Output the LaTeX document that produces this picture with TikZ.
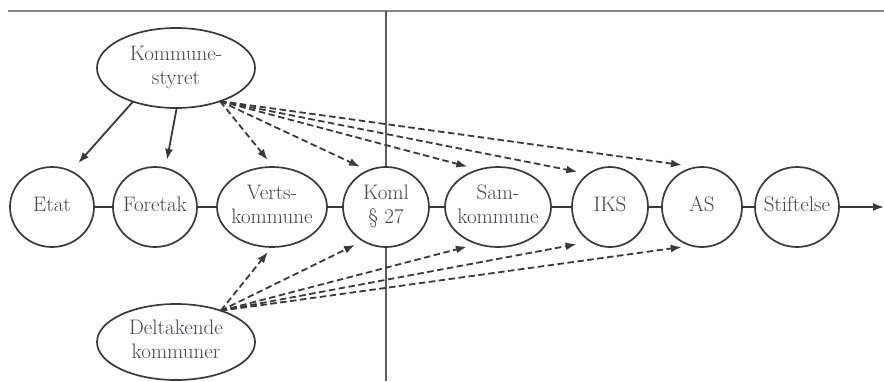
\documentclass[tikz,border=0pt]{standalone}
\usetikzlibrary{shapes.geometric,arrows.meta}
\definecolor{ln}{HTML}{3A3A3A}
\definecolor{tx}{HTML}{45454F}
\definecolor{rule}{HTML}{858585}
\newcommand{\lbl}[1]{\makebox[0pt]{\begin{tabular}{@{}c@{}}#1\end{tabular}}}
\tikzset{
  blob/.style={ellipse, draw=ln, line width=1.7pt, fill=white, inner sep=0pt, outer sep=0pt,
    text=tx, font=\fontsize{21}{24}\selectfont},
  link/.style={draw=ln, line width=1.7pt},
  solidarr/.style={draw=ln, line width=1.8pt, -{Latex[length=11pt,width=8pt]}},
  dasharr/.style={solidarr, dash pattern=on 6.5pt off 3.5pt},
}
\begin{document}
\begin{tikzpicture}[x=1pt,y=-1pt]
\useasboundingbox (0,0) rectangle (884,381);
\coordinate (tl) at (8,11);
\coordinate (tr) at (884,11);
\coordinate (vtop) at (386,11);
\coordinate (vbot) at (386,381);
\coordinate (endpt) at (884,207);
\draw[rule, line width=2.8pt] (tl) -- (tr);
\draw[rule!70!black, line width=2.2pt] (vtop) -- (vbot);

\node[blob, minimum width=158pt, minimum height=80pt] (ks) at (176,68) {\lbl{Kommune-\\styret}};
\node[blob, minimum width=84pt, minimum height=80pt] (etat) at (52,207) {\lbl{Etat}};
\node[blob, minimum width=84pt, minimum height=80pt] (foretak) at (155,207) {\lbl{Foretak}};
\node[blob, minimum width=110pt, minimum height=80pt] (verts) at (272,207) {\lbl{Verts-\\kommune}};
\node[blob, minimum width=86pt, minimum height=80pt] (koml) at (386,207) {\lbl{Koml\\\S\ 27}};
\node[blob, minimum width=106pt, minimum height=80pt] (sam) at (498,207) {\lbl{Sam-\\kommune}};
\node[blob, minimum width=76pt, minimum height=80pt] (iks) at (610,207) {\lbl{IKS}};
\node[blob, minimum width=80pt, minimum height=80pt] (asn) at (702,207) {\lbl{AS}};
\node[blob, minimum width=84pt, minimum height=80pt] (stift) at (797,207) {\lbl{Stiftelse}};
\node[blob, minimum width=158pt, minimum height=76pt] (dk) at (176,342) {\lbl{Deltakende\\kommuner}};

\draw[link] (etat) -- (foretak);
\draw[link] (foretak) -- (verts);
\draw[link] (verts) -- (koml);
\draw[link] (koml) -- (sam);
\draw[link] (sam) -- (iks);
\draw[link] (iks) -- (asn);
\draw[link] (asn) -- (stift);
\draw[solidarr] (stift) -- (endpt);

\draw[solidarr, shorten >=11pt] (ks.-142) -- (etat.62);
\draw[solidarr, shorten >=8.5pt] (ks.-89) -- (foretak.75);
\draw[dasharr, shorten >=9pt] (ks.-37) -- (verts.88);
\draw[dasharr, shorten >=9pt] (ks.-37) -- (koml.116);
\draw[dasharr, shorten >=12pt] (ks.-37) -- (sam.117);
\draw[dasharr, shorten >=11.5pt] (ks.-37) -- (iks.123);
\draw[dasharr, shorten >=16pt] (ks.-37) -- (asn.96);

\draw[dasharr, shorten >=6.5pt] (dk.35) -- (verts.-90);
\draw[dasharr, shorten >=9pt] (dk.35) -- (koml.-124);
\draw[dasharr, shorten >=11pt] (dk.35) -- (sam.-119);
\draw[dasharr, shorten >=14.5pt] (dk.35) -- (iks.-119);
\draw[dasharr, shorten >=10pt] (dk.35) -- (asn.-105);
\end{tikzpicture}
\end{document}
